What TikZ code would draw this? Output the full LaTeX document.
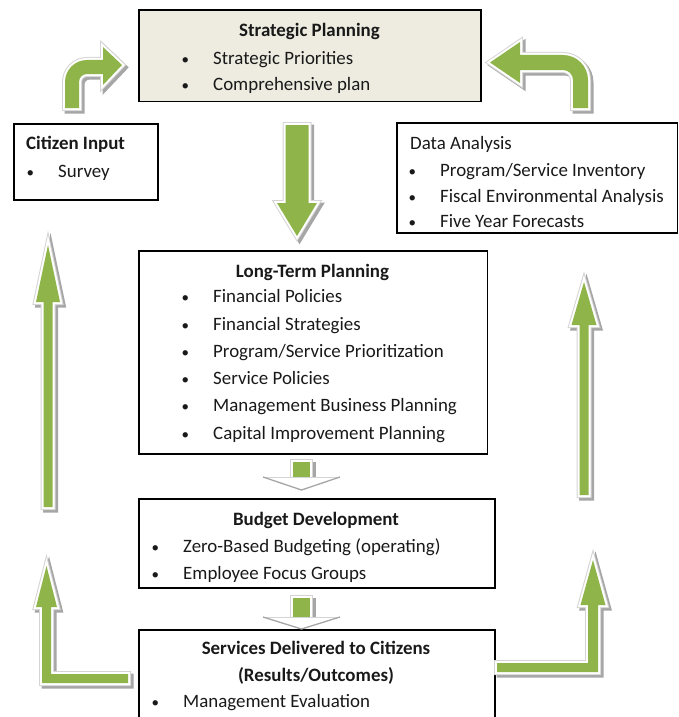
\documentclass[tikz,border=0pt]{standalone}
\usepackage{fontspec}
\setmainfont{Carlito}
\definecolor{arrgreen}{HTML}{8FB54A}
\definecolor{tanfill}{HTML}{EEECE1}
\definecolor{shadowc}{HTML}{A6A6A6}
\definecolor{edgec}{HTML}{D4D4D4}
\newcommand\bl[1]{\makebox[32.5pt][l]{\hspace{1pt}{\fontsize{15}{15}\selectfont\textbullet}}#1}
\newcommand\blockarrow[1]{%
  \filldraw[shadowc, line width=6pt, line join=miter, shift={(2.5,2.5)}] #1;
  \filldraw[fill=white, draw=edgec, line width=6pt, line join=miter] #1;
  \draw[white, line width=4pt, line join=miter] #1;
  \fill[arrgreen] #1;}
\tikzset{
  box/.style={draw=black, line width=1.7pt, inner sep=0pt, anchor=north west},
  txt/.style={inner sep=0pt, font=\fontsize{18.9}{22}\selectfont, text=black!90, anchor=base west},
  ttl/.style={inner sep=0pt, font=\fontsize{18.9}{22}\selectfont\bfseries, text=black!90, anchor=base},
}
\begin{document}
\begin{tikzpicture}[x=1pt,y=-1pt]
\useasboundingbox (0,0) rectangle (678,717);
\clip (0,0) rectangle (678,717);

% ---- boxes ----
\node[box, fill=tanfill, minimum width=342pt, minimum height=91pt] (sp) at (138,9.5) {};
\node[box, minimum width=144pt, minimum height=76pt] (ci) at (13,123) {};
\node[box, minimum width=280.5pt, minimum height=110pt] (da) at (396,122) {};
\node[box, minimum width=348.5pt, minimum height=203pt] (lt) at (138,250) {};
\node[box, minimum width=356pt, minimum height=89pt] (bd) at (138,498) {};
\node[box, minimum width=356pt, minimum height=120pt] (sd) at (138,629) {};

% ---- texts ----
\node[ttl] (sp0) at (309.5,37) {Strategic Planning};
\node[txt] (sp1) at (180.5,64) {\bl{Strategic Priorities}};
\node[txt] (sp2) at (180.5,90) {\bl{Comprehensive plan}};

\node[ttl, anchor=base west] (ci0) at (26,149) {Citizen Input};
\node[txt] (ci1) at (25.5,177) {\bl{Survey}};

\node[txt] (da0) at (410,149) {Data Analysis};
\node[txt] (da1) at (407.5,176) {\bl{Program/Service Inventory}};
\node[txt] (da2) at (407.5,202) {\bl{Fiscal Environmental Analysis}};
\node[txt] (da3) at (407.5,227) {\bl{Five Year Forecasts}};

\node[ttl] (lt0) at (312.5,277) {Long-Term Planning};
\node[txt] (lt1) at (180.5,302) {\bl{Financial Policies}};
\node[txt] (lt2) at (180.5,330) {\bl{Financial Strategies}};
\node[txt] (lt3) at (180.5,357) {\bl{Program/Service Prioritization}};
\node[txt] (lt4) at (180.5,384) {\bl{Service Policies}};
\node[txt] (lt5) at (180.5,411) {\bl{Management Business Planning}};
\node[txt] (lt6) at (180.5,439) {\bl{Capital Improvement Planning}};

\node[ttl] (bd0) at (316,525) {Budget Development};
\node[txt] (bd1) at (150.5,552) {\bl{Zero-Based Budgeting (operating)}};
\node[txt] (bd2) at (150.5,579) {\bl{Employee Focus Groups}};

\node[ttl] (sd0) at (316,654) {Services Delivered to Citizens};
\node[ttl] (sd1) at (316,681) {(Results/Outcomes)};
\node[txt] (sd2) at (150.5,707) {\bl{Management Evaluation}};

% ---- block arrows ----
% Strategic -> Long-term
\blockarrow{(285.5,125) -- (285.5,203) -- (277,203) -- (297,236) -- (317,203) -- (308.5,203) -- (308.5,125) -- cycle}
% left tall up
\blockarrow{(43.5,507) -- (43.5,302) -- (36,302) -- (48,245) -- (60,302) -- (52.5,302) -- (52.5,507) -- cycle}
% left L
\blockarrow{(128,674) -- (51,674) -- (51,607) -- (57,607) -- (46.5,566) -- (36,607) -- (42,607) -- (42,683) -- (128,683) -- cycle}
% right tall up
\blockarrow{(579.5,495) -- (579.5,325) -- (571.5,325) -- (584,282) -- (596.5,325) -- (588.5,325) -- (588.5,495) -- cycle}
% right L
\blockarrow{(497,663) -- (588,663) -- (588,605) -- (580.5,605) -- (593,560) -- (605.5,605) -- (598,605) -- (598,672) -- (497,672) -- cycle}
% top-left curved
\blockarrow{(65,108) -- (65,82) .. controls (65,69.85) and (74.85,60) .. (87,60) -- (103,60) -- (103,47) -- (122,65) -- (103,85) -- (103,74) -- (87,74) .. controls (82.58,74) and (79,77.58) .. (79,82) -- (79,108) -- cycle}
% top-right curved
\blockarrow{(588,108) -- (588,80) .. controls (588,66.2) and (576.8,55) .. (563,55) -- (520,55) -- (520,42) -- (490,62.5) -- (520,83) -- (520,70) -- (563,70) .. controls (568.5,70) and (573,74.5) .. (573,80) -- (573,108) -- cycle}
% small arrow LT -> BD
\blockarrow{(293,462) rectangle (310,478)}
\fill[white] (263,477) -- (301.5,490) -- (340,477) -- cycle;
\draw[edgec, line width=1pt] (263,477) -- (340,477);
\draw[shadowc, line width=1.3pt, line join=round] (263,477) -- (301.5,490) -- (340,477);
% small arrow BD -> SD
\blockarrow{(293,598) rectangle (310,617)}
\fill[white] (263,617) -- (301.5,629) -- (340,617) -- cycle;
\draw[edgec, line width=1pt] (263,617) -- (340,617);
\draw[shadowc, line width=1.3pt, line join=round] (263,617) -- (301.5,629) -- (340,617);
\end{tikzpicture}
\end{document}
